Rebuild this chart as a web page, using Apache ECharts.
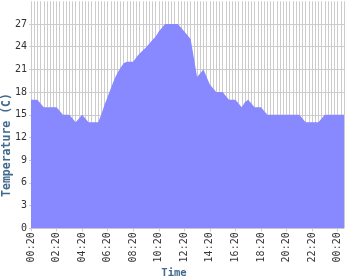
<!DOCTYPE html>
<html>
<head>
<meta charset="utf-8">
<script src="https://cdn.jsdelivr.net/npm/echarts@6/dist/echarts.min.js"></script>
<style>html,body{margin:0;padding:0;background:#fff;}#c{width:350px;height:280px;}</style>
</head>
<body>
<div id="c"></div>
<script>
var times = [
  "00:20","00:35","00:50","01:05","01:20","01:35","01:50","02:05",
  "02:20","02:35","02:50","03:05","03:20","03:35","03:50","04:05",
  "04:20","04:35","04:50","05:05","05:20","05:35","05:50","06:05",
  "06:20","06:35","06:50","07:05","07:20","07:35","07:50","08:05",
  "08:20","08:35","08:50","09:05","09:20","09:35","09:50","10:05",
  "10:20","10:35","10:50","11:05","11:20","11:35","11:50","12:05",
  "12:20","12:35","12:50","13:05","13:20","13:35","13:50","14:05",
  "14:20","14:35","14:50","15:05","15:20","15:35","15:50","16:05",
  "16:20","16:35","16:50","17:05","17:20","17:35","17:50","18:05",
  "18:20","18:35","18:50","19:05","19:20","19:35","19:50","20:05",
  "20:20","20:35","20:50","21:05","21:20","21:35","21:50","22:05",
  "22:20","22:35","22:50","23:05","23:20","23:35","23:50","00:05",
  "00:20","00:35","00:50"
];
var temperature = [
  17,17,17,16.5,16,16,16,16,16,15.5,15,15,15,14.5,14,14.5,15,14.5,14,14,14,14,
  15,16.3,17.4,18.5,19.6,20.5,21.2,21.8,
  22,22,22,
  22.6,23.1,23.5,23.9,24.4,24.9,25.3,26,26.5,
  27,27,27,27,27,
  26.5,26,25.5,25,22.5,20,20.5,21,20,19,18.5,
  18,18,18,
  17.5,
  17,17,17,
  16.5,16,16.7,17,16.5,
  16,16,16,
  15.5,
  15,15,15,15,15,15,15,15,15,15,15,
  14.5,
  14,14,14,14,14,
  14.5,
  15,15,15,15,15,15,15
];
var yTicks = [0,3,6,9,12,15,18,21,24,27];
var yAxisTitle = "Temperature (C)";
var xAxisTitle = "Time";

var chart = echarts.init(document.getElementById('c'), null, {renderer:'canvas'});
var mono = "DejaVu Sans Mono";
var nameColor = "#436a8e";
var splitColors = [];
for (var k = 0; k <= 10; k++) splitColors.push(k < yTicks.length ? '#cccccc' : 'rgba(0,0,0,0)');

chart.setOption({
  animation: false,
  backgroundColor: '#ffffff',
  grid: { left: 31, right: 6, top: 1.3, bottom: 51.7, containLabel: false },
  xAxis: {
    type: 'category',
    data: times,
    boundaryGap: false,
    axisLine: { show: false },
    axisTick: { show: true, interval: 7, length: 3, lineStyle: { color: '#cccccc' } },
    axisLabel: { interval: 7, rotate: 90, margin: 4, fontFamily: mono, fontSize: 10, color: '#333333' },
    splitLine: { show: true, interval: 0, lineStyle: { color: '#cccccc', width: 1 } }
  },
  yAxis: {
    type: 'value',
    min: 0, max: 30, interval: 3,
    axisLine: { show: false },
    axisTick: { show: true, length: 2, lineStyle: { color: '#cccccc' } },
    axisLabel: { showMaxLabel: false, margin: 4, fontFamily: mono, fontSize: 10, color: '#333333' },
    splitLine: { show: true, lineStyle: { color: splitColors, width: 1 } }
  },
  graphic: [
    { type: 'text', x: 7.5, y: 145, rotation: Math.PI / 2,
      style: { text: yAxisTitle, fontFamily: mono, fontWeight: 'bold', fontSize: 11.5, fill: nameColor, align: 'center', verticalAlign: 'middle' } },
    { type: 'text', x: 174, y: 273,
      style: { text: xAxisTitle, fontFamily: mono, fontWeight: 'bold', fontSize: 10.5, fill: nameColor, align: 'center', verticalAlign: 'middle' } }
  ],
  series: [{
    type: 'line',
    data: temperature,
    showSymbol: false,
    symbol: 'none',
    lineStyle: { width: 0, color: '#8888ff' },
    itemStyle: { color: '#8888ff' },
    areaStyle: { color: '#8888ff', opacity: 1 }
  }]
});
</script>
</body>
</html>
